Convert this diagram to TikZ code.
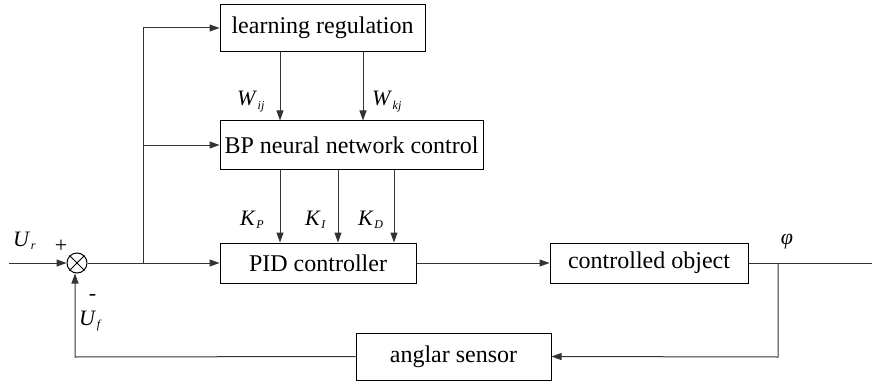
\documentclass[tikz,border=0pt]{standalone}
\usepackage{fontspec}
\setmainfont{Liberation Serif}
\usetikzlibrary{arrows.meta}
\newcommand{\lblsub}[2]{\textit{#1}\kern0.5pt\raisebox{-3.5pt}{\fontsize{12}{12}\selectfont\textit{#2}}}
\begin{document}
\begin{tikzpicture}[x=1pt,y=-1pt,
  blk/.style={draw,line width=1pt,minimum height=#1,inner sep=0pt,font=\fontsize{24}{26}\selectfont},
  blk/.default=40pt,
  wire/.style={line width=1pt,draw=black!80},
  arr/.style={line width=1pt,draw=black!80,-{Triangle[length=10pt,width=7pt]}},
  lbl/.style={inner sep=0pt,anchor=base west,font=\fontsize{22}{24}\selectfont}]
\useasboundingbox (0,0) rectangle (872,385);
% blocks
\node[blk=47pt,minimum width=205pt] (learn) at (322.5,28) {learning regulation};
\node[blk=48pt,minimum width=263pt] (bp) at (351.5,145) {BP neural network control\hspace{4pt}};
\node[blk=40pt,minimum width=196pt] (pid) at (318,263) {PID controller};
\node[blk=40pt,minimum width=198pt] (obj) at (649,263) {controlled object};
\node[blk=47pt,minimum width=195pt] (sens) at (453.5,356.5) {anglar sensor};
\node[draw,circle,line width=1pt,minimum size=20pt,inner sep=0pt] (sum) at (77,263) {};
\draw[line width=1pt] (sum.north west) -- (sum.south east) (sum.north east) -- (sum.south west);
% coordinates
\coordinate (in) at (9,263);
\coordinate (br) at (143,263);
\coordinate (brtop) at (143,28);
\coordinate (brmid) at (143,145);
\coordinate (out) at (872,263);
\coordinate (fb) at (778,263);
\coordinate (fbb) at (778,357);
\coordinate (fbl) at (75,357);
% main path
\draw[arr] (in) -- (sum.west);
\draw[arr] (sum.east) -- (pid.west);
\draw[arr] (br) -- (brtop) -- (learn.west);
\draw[arr] (brmid) -- (bp.west);
\draw[arr] (pid.east) -- (obj.west);
\draw[wire] (obj.east) -- (out);
\draw[arr] (fb) -- (fbb) -- (sens.east);
\draw[arr] (sens.west) -- (fbl) -- (fbl |- sum.south);
% learning -> BP
\draw[arr] (learn.south -| 280,0) -- (bp.north -| 280,0);
\draw[arr] (learn.south -| 363,0) -- (bp.north -| 363,0);
% BP -> PID
\draw[arr] (bp.south -| 280,0) -- (pid.north -| 280,0);
\draw[arr] (bp.south -| 338,0) -- (pid.north -| 338,0);
\draw[arr] (bp.south -| 394,0) -- (pid.north -| 394,0);
% labels
\node[lbl] (lur) at (13,246) {\lblsub{U}{r}};
\node[lbl,anchor=center] (lplus) at (61,246) {+};
\node[lbl,anchor=center] (lminus) at (92.5,297) {-};
\node[lbl] (luf) at (79,325) {\lblsub{U}{f}};
\node[lbl,anchor=center] (lphi) at (787,242) {\textit{φ}};
\node[lbl] (lwij) at (237,106) {\lblsub{W}{ij}};
\node[lbl] (lwkj) at (372,106) {\lblsub{W}{kj}};
\node[lbl] (lkp) at (240,225) {\lblsub{K}{P}};
\node[lbl] (lki) at (305,225) {\lblsub{K}{I}};
\node[lbl] (lkd) at (358,225) {\lblsub{K}{D}};
\end{tikzpicture}
\end{document}
